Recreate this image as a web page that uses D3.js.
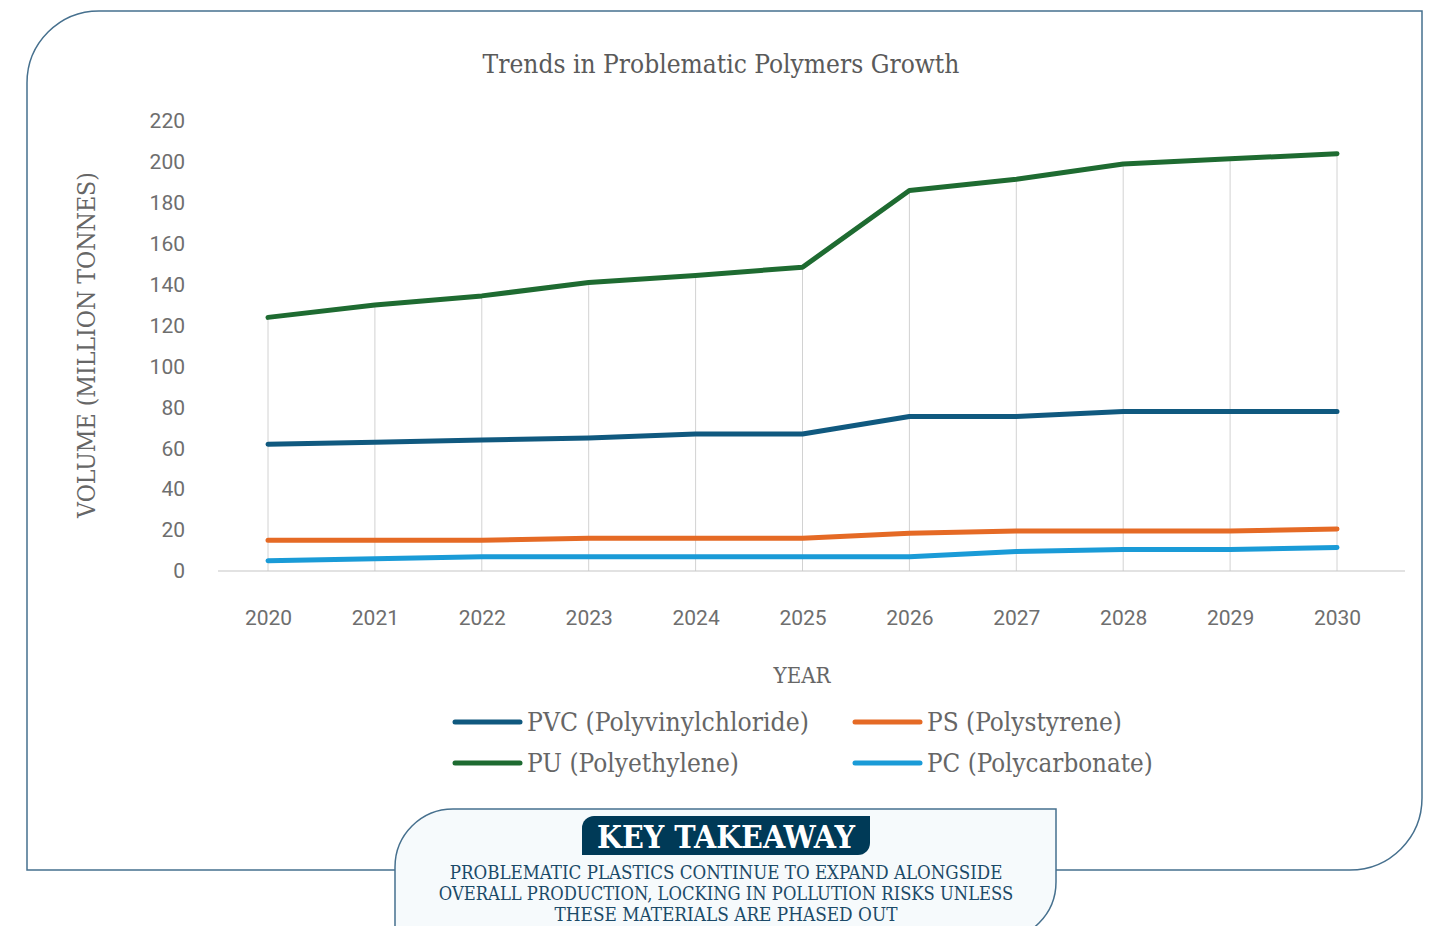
<!DOCTYPE html>
<meta charset="utf-8">
<script src="https://d3js.org/d3.v7.min.js"></script>
<style>
  body { margin: 0; background: #fff; }
  text { font-family: "DejaVu Serif Condensed", "DejaVu Serif", serif; }
  .tick text { font-family: Roboto, "Noto Sans", sans-serif; }
</style>
<div id="vis"></div>
<script>
    // data
    var years = [2020, 2021, 2022, 2023, 2024, 2025, 2026, 2027, 2028, 2029, 2030];
    var pvc = [62, 63, 64, 65, 67, 67, 75.5, 75.5, 78, 78, 78];
    var ps  = [15, 15, 15, 16, 16, 16, 18.5, 19.5, 19.5, 19.5, 20.5];
    var pu  = [124, 130, 134.5, 141, 144.5, 148.5, 186, 191.5, 199, 201.5, 204];
    var pc  = [5, 6, 7, 7, 7, 7, 7, 9.5, 10.5, 10.5, 11.5];
    var yTicks = [0, 20, 40, 60, 80, 100, 120, 140, 160, 180, 200, 220];

    var series = [
        { name: "PVC (Polyvinylchloride)", values: pvc, color: "#10597f" },
        { name: "PS (Polystyrene)", values: ps, color: "#e56a25" },
        { name: "PU (Polyethylene)", values: pu, color: "#1e6b31" },
        { name: "PC (Polycarbonate)", values: pc, color: "#1a9bd7" }
    ];

    var W = 1430, H = 926;
    var svg = d3.select("#vis").append("svg")
        .attr("width", W).attr("height", H);

    // shrink/grow a text so it spans a given width
    function fit(sel, w) {
        sel.each(function () {
            var t = d3.select(this);
            var fs = parseFloat(t.attr("font-size"));
            var len = this.getComputedTextLength();
            if (len > 0) t.attr("font-size", fs * w / len);
        });
    }

    // frame with rounded top-left / bottom-right corners
    function frame(x0, y0, x1, y1, r) {
        return "M" + x0 + "," + (y0 + r) + " A" + r + "," + r + " 0 0 1 " + (x0 + r) + "," + y0 +
            " L" + x1 + "," + y0 + " L" + x1 + "," + (y1 - r) +
            " A" + r + "," + r + " 0 0 1 " + (x1 - r) + "," + y1 +
            " L" + x0 + "," + y1 + " Z";
    }

    svg.append("path")
        .attr("d", frame(27, 11, 1422, 870, 72))
        .attr("fill", "#fff")
        .attr("stroke", "#46708e")
        .attr("stroke-width", 1.5);

    var x = d3.scalePoint().domain(years).range([268, 1337]);
    var y = d3.scaleLinear().domain([0, 220]).range([571, 121]);

    // title
    svg.append("text")
        .attr("x", 721).attr("y", 64)
        .attr("text-anchor", "middle").attr("dominant-baseline", "central")
        .attr("font-size", 24).attr("fill", "#5a5a5a")
        .text("Trends in Problematic Polymers Growth")
        .call(fit, 477);

    // drop lines from the highest series at each year
    var maxVals = years.map(function (yr, i) {
        return d3.max(series, function (s) { return s.values[i]; });
    });
    svg.append("g").selectAll("line")
        .data(years)
        .join("line")
        .attr("x1", function (d) { return x(d); })
        .attr("x2", function (d) { return x(d); })
        .attr("y1", y(0))
        .attr("y2", function (d, i) { return y(maxVals[i]); })
        .attr("stroke", "#d2d2d2")
        .attr("stroke-width", 1);

    // baseline
    svg.append("line")
        .attr("x1", 218).attr("x2", 1405)
        .attr("y1", y(0)).attr("y2", y(0))
        .attr("stroke", "#c6c6c6").attr("stroke-width", 1.2);

    // y axis
    var yAxis = svg.append("g")
        .attr("transform", "translate(185,0)")
        .call(d3.axisLeft(y).tickValues(yTicks).tickSize(0).tickPadding(0));
    yAxis.select(".domain").remove();
    yAxis.selectAll("text").attr("font-size", 21).attr("fill", "#6e6e6e");

    // x axis
    var xAxis = svg.append("g")
        .attr("transform", "translate(0,610)")
        .call(d3.axisBottom(x).tickFormat(d3.format("d")).tickSize(0).tickPadding(0));
    xAxis.select(".domain").remove();
    xAxis.selectAll("text").attr("font-size", 21).attr("fill", "#6e6e6e");

    // axis titles
    svg.append("text")
        .attr("transform", "translate(86,345) rotate(-90)")
        .attr("text-anchor", "middle").attr("dominant-baseline", "central")
        .attr("font-size", 22).attr("fill", "#666")
        .text("VOLUME (MILLION TONNES)")
        .call(fit, 346);

    svg.append("text")
        .attr("x", 802).attr("y", 675)
        .attr("text-anchor", "middle").attr("dominant-baseline", "central")
        .attr("font-size", 19).attr("fill", "#666")
        .text("YEAR")
        .call(fit, 57);

    // lines
    var line = d3.line()
        .x(function (d, i) { return x(years[i]); })
        .y(function (d) { return y(d); });

    svg.append("g").selectAll("path")
        .data(series)
        .join("path")
        .attr("d", function (s) { return line(s.values); })
        .attr("fill", "none")
        .attr("stroke", function (s) { return s.color; })
        .attr("stroke-width", 5)
        .attr("stroke-linecap", "round")
        .attr("stroke-linejoin", "round");

    // legend
    var legPos = [[455, 722, 282], [855, 722, 195], [455, 763, 212], [855, 763, 226]];
    var leg = svg.append("g").selectAll("g")
        .data(series)
        .join("g")
        .attr("transform", function (d, i) { return "translate(" + legPos[i][0] + "," + legPos[i][1] + ")"; });
    leg.append("line")
        .attr("x1", 0).attr("x2", 65)
        .attr("stroke", function (d) { return d.color; })
        .attr("stroke-width", 5)
        .attr("stroke-linecap", "round");
    leg.append("text")
        .attr("x", 72).attr("dominant-baseline", "central")
        .attr("font-size", 24).attr("fill", "#666")
        .text(function (d) { return d.name; })
        .each(function (d, i) { d3.select(this).call(fit, legPos[i][2]); });

    // key takeaway panel
    svg.append("path")
        .attr("d", frame(395, 809, 1056, 940, 58))
        .attr("fill", "#f6fafc")
        .attr("stroke", "#46708e")
        .attr("stroke-width", 1.5);

    var lx0 = 582, lx1 = 870, ly0 = 816, ly1 = 855, lr = 12;
    svg.append("path")
        .attr("d", frame(lx0, ly0, lx1, ly1, lr))
        .attr("fill", "#003a57");
    svg.append("text")
        .attr("x", 726).attr("y", 837)
        .attr("text-anchor", "middle").attr("dominant-baseline", "central")
        .attr("font-size", 30).attr("font-weight", "bold").attr("fill", "#fff")
        .text("KEY TAKEAWAY")
        .call(fit, 258);

    var takeaway = [
        ["PROBLEMATIC PLASTICS CONTINUE TO EXPAND ALONGSIDE", 872, 553],
        ["OVERALL PRODUCTION, LOCKING IN POLLUTION RISKS UNLESS", 893, 575],
        ["THESE MATERIALS ARE PHASED OUT", 914, 343]
    ];
    svg.append("g").selectAll("text")
        .data(takeaway)
        .join("text")
        .attr("x", 726)
        .attr("y", function (d) { return d[1]; })
        .attr("text-anchor", "middle").attr("dominant-baseline", "central")
        .attr("font-size", 18).attr("fill", "#1b4a68")
        .text(function (d) { return d[0]; })
        .each(function (d) { d3.select(this).call(fit, d[2]); });
</script>
